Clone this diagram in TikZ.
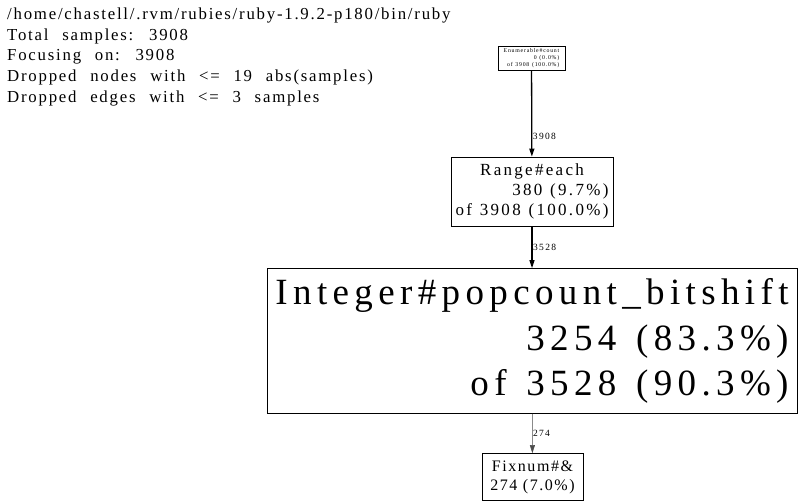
\documentclass[tikz,border=0pt]{standalone}
\usepackage{fontspec}
\setmainfont{Liberation Serif}
\usetikzlibrary{arrows.meta,positioning}
\newfontfamily\hdrfont[LetterSpace=10.5,WordSpace=2.3]{Liberation Serif}
\newfontfamily\boxfont[LetterSpace=13.5,WordSpace=1.2]{Liberation Serif}
\newfontfamily\leaffont[LetterSpace=9.7]{Liberation Serif}
\newfontfamily\bigfont[LetterSpace=14.5,WordSpace=1.35]{Liberation Serif}
\newfontfamily\lblfont[LetterSpace=14]{Liberation Serif}

\begin{document}
\begin{tikzpicture}[x=1pt, y=-1pt,
    fn/.style={draw=black, line width=0.7pt, inner sep=0pt, align=center},
    calls/.style={draw=black, line width=1.3pt, -{Triangle[length=8pt,width=5pt]}},
    fewcalls/.style={draw=black!70, line width=0.5pt, -{Triangle[length=8pt,width=5pt]}},
    weight/.style={font=\lblfont\fontsize{9.5}{11}\selectfont, anchor=west, inner sep=0.5pt}
]
    \useasboundingbox (0,0) rectangle (800,502);

    % Header
    \node[anchor=north west, inner sep=0pt, align=left, font=\hdrfont\fontsize{16.8}{20.6}\selectfont] (hdr) at (7,7.8)
        {/home/chastell/.rvm/rubies/ruby-1.9.2-p180/bin/ruby\\
         Total samples: 3908\\
         Focusing on: 3908\\
         Dropped nodes with <= 19 abs(samples)\\
         Dropped edges with <= 3 samples};

    % Functions
    \node[fn, minimum width=67pt, minimum height=24pt, font=\boxfont\fontsize{5.8}{7.4}\selectfont] (enumcount) at (531.5,58)
        {\begin{tabular}{@{}r@{}}\multicolumn{1}{@{}c@{}}{Enumerable\#count}\\0 (0.0\%)\\of 3908 (100.0\%)\end{tabular}};

    \node[fn, minimum width=162pt, minimum height=69pt, font=\boxfont\fontsize{17}{20.3}\selectfont] (rangeeach) at (532,191.5)
        {\begin{tabular}{@{}r@{}}\multicolumn{1}{@{}c@{}}{Range\#each}\\380 (9.7\%)\\of 3908 (100.0\%)\end{tabular}};

    \node[fn, minimum width=530pt, minimum height=145pt, font=\bigfont\fontsize{37}{45.5}\selectfont] (popcount) at (532,341)
        {\begin{tabular}{@{}r@{}}\multicolumn{1}{@{}c@{}}{Integer\#popcount\_bitshift}\\3254 (83.3\%)\\of 3528 (90.3\%)\end{tabular}};

    \node[fn, minimum width=101pt, minimum height=47pt, font=\leaffont\fontsize{16}{19}\selectfont] (fixnumand) at (532.5,477)
        {\begin{tabular}{@{}r@{}}\multicolumn{1}{@{}c@{}}{Fixnum\#\&}\\274 (7.0\%)\end{tabular}};

    % Calls
    \draw[calls] (enumcount) -- node[weight, pos=0.76] {3908} (rangeeach);
    \draw[calls] (rangeeach) -- node[weight, pos=0.5] {3528} (popcount);
    \draw[fewcalls] (popcount) -- node[weight, pos=0.5] {274} (fixnumand);
\end{tikzpicture}
\end{document}
